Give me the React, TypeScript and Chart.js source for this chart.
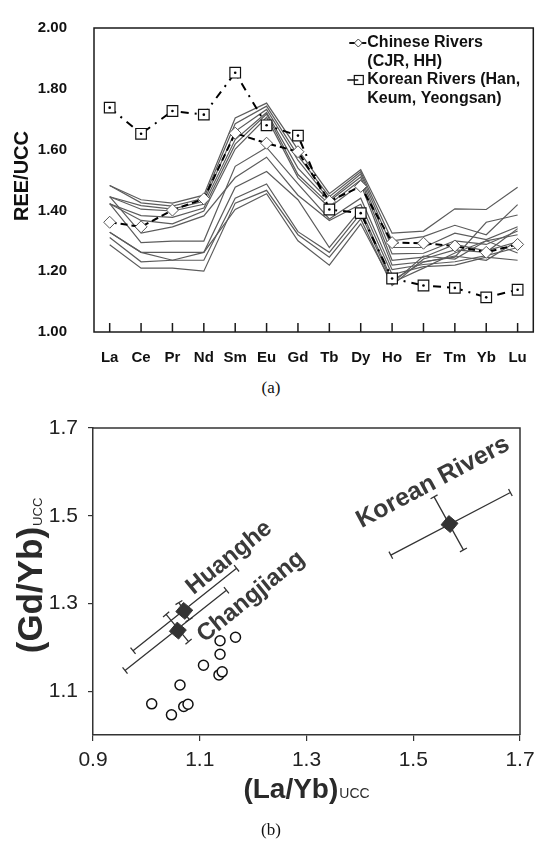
import React, { useEffect, useRef } from "react";
import { Chart, registerables } from "chart.js";
Chart.register(...registerables);

const FONT = "'Liberation Sans', Arial, sans-serif";

// ---------------- Panel (a): REE/UCC patterns ----------------
const elements = ["La", "Ce", "Pr", "Nd", "Sm", "Eu", "Gd", "Tb", "Dy", "Ho", "Er", "Tm", "Yb", "Lu"];
const yTicksA = [1.0, 1.2, 1.4, 1.6, 1.8, 2.0];
const chineseRivers = [1.361, 1.346, 1.401, 1.438, 1.654, 1.621, 1.593, 1.43, 1.479, 1.294, 1.292, 1.283, 1.262, 1.288];
const koreanRivers = [1.738, 1.652, 1.727, 1.715, 1.853, 1.68, 1.646, 1.403, 1.391, 1.176, 1.153, 1.145, 1.114, 1.139];
const sample01 = [1.482, 1.435, 1.424, 1.45, 1.704, 1.753, 1.6, 1.455, 1.534, 1.325, 1.332, 1.405, 1.403, 1.476];
const sample02 = [1.482, 1.425, 1.414, 1.44, 1.685, 1.743, 1.58, 1.445, 1.527, 1.3, 1.314, 1.351, 1.32, 1.419];
const sample03 = [1.445, 1.416, 1.404, 1.43, 1.66, 1.732, 1.565, 1.435, 1.52, 1.278, 1.278, 1.325, 1.304, 1.346];
const sample04 = [1.445, 1.404, 1.398, 1.42, 1.633, 1.722, 1.539, 1.43, 1.51, 1.257, 1.259, 1.3, 1.288, 1.332];
const sample05 = [1.422, 1.383, 1.377, 1.408, 1.618, 1.717, 1.518, 1.42, 1.5, 1.236, 1.246, 1.288, 1.267, 1.297];
const sample06 = [1.422, 1.367, 1.356, 1.398, 1.602, 1.706, 1.508, 1.41, 1.487, 1.22, 1.231, 1.246, 1.361, 1.385];
const sample07 = [1.422, 1.294, 1.299, 1.299, 1.545, 1.607, 1.487, 1.372, 1.44, 1.205, 1.222, 1.231, 1.251, 1.278];
const sample08 = [1.445, 1.325, 1.346, 1.382, 1.508, 1.575, 1.45, 1.367, 1.42, 1.189, 1.215, 1.22, 1.246, 1.236];
const sample09 = [1.328, 1.262, 1.262, 1.262, 1.476, 1.528, 1.435, 1.278, 1.403, 1.17, 1.23, 1.25, 1.236, 1.3];
const sample10 = [1.311, 1.231, 1.236, 1.236, 1.44, 1.487, 1.33, 1.262, 1.39, 1.163, 1.21, 1.26, 1.3, 1.32];
const sample11 = [1.287, 1.21, 1.21, 1.2, 1.424, 1.466, 1.32, 1.246, 1.372, 1.153, 1.24, 1.27, 1.262, 1.34];
const sample12 = [1.328, 1.262, 1.236, 1.262, 1.403, 1.455, 1.3, 1.22, 1.356, 1.16, 1.25, 1.24, 1.3, 1.26];
const samples = [sample01, sample02, sample03, sample04, sample05, sample06, sample07, sample08, sample09, sample10, sample11, sample12];
const legendChinese = ["Chinese Rivers", "(CJR, HH)"];
const legendKorean = ["Korean Rivers (Han,", "Keum, Yeongsan)"];

// ---------------- Panel (b): (Gd/Yb) vs (La/Yb) ----------------
const xTicksB = [0.9, 1.1, 1.3, 1.5, 1.7];
const yTicksB = [1.1, 1.3, 1.5, 1.7];
const sampleLaYb = [1.01, 1.047, 1.063, 1.07, 1.078, 1.107, 1.138, 1.138, 1.136, 1.142, 1.167];
const sampleGdYb = [1.071, 1.046, 1.114, 1.065, 1.07, 1.159, 1.215, 1.184, 1.137, 1.144, 1.223];
const meanNames = ["Huanghe", "Changjiang", "Korean Rivers"];
const meanLaYb = [1.071, 1.059, 1.568];
const meanGdYb = [1.283, 1.238, 1.481];
const longLowLaYb = [0.975, 0.96, 1.458];
const longLowGdYb = [1.192, 1.147, 1.41];
const longHighLaYb = [1.169, 1.15, 1.682];
const longHighGdYb = [1.38, 1.33, 1.553];
const shortUpLaYb = [1.061, 1.037, 1.539];
const shortUpGdYb = [1.302, 1.275, 1.543];
const shortDownLaYb = [1.08, 1.079, 1.594];
const shortDownGdYb = [1.263, 1.213, 1.422];
const nameLaYb = [1.155, 1.196, 1.537];
const nameGdYb = [1.404, 1.315, 1.576];
const nameAngle = [-39, -39, -28];

const panelAPlugin = {
  id: "panelA",
  afterDraw(chart: any) {
    const { ctx, chartArea: a, scales } = chart;
    const x = scales.x;
    ctx.save();
    ctx.strokeStyle = "#1a1a1a";
    ctx.lineWidth = 1.5;
    ctx.strokeRect(a.left, a.top, a.right - a.left, a.bottom - a.top);
    x.ticks.forEach((_: any, i: number) => {
      const px = x.getPixelForTick(i);
      ctx.beginPath();
      ctx.moveTo(px, a.bottom);
      ctx.lineTo(px, a.bottom - 9);
      ctx.stroke();
    });
    // axis title
    ctx.save();
    ctx.translate(22, (a.top + a.bottom) / 2 - 4);
    ctx.rotate(-Math.PI / 2);
    ctx.fillStyle = "#111";
    ctx.font = `bold 20px ${FONT}`;
    ctx.textAlign = "center";
    ctx.textBaseline = "middle";
    ctx.fillText("REE/UCC", 0, 0);
    ctx.restore();
    // legend
    const lx = a.right - 166;
    const ly = a.top + 15;
    ctx.fillStyle = "#111";
    ctx.font = `bold 16px ${FONT}`;
    ctx.textAlign = "left";
    ctx.textBaseline = "middle";
    ctx.fillText(legendChinese[0], lx, ly);
    ctx.fillText(legendChinese[1], lx, ly + 19);
    ctx.fillText(legendKorean[0], lx, ly + 37);
    ctx.fillText(legendKorean[1], lx, ly + 56);
    ctx.strokeStyle = "#111";
    ctx.lineWidth = 2;
    ctx.beginPath();
    ctx.moveTo(lx - 18, ly);
    ctx.lineTo(lx - 12, ly);
    ctx.moveTo(lx - 6, ly);
    ctx.lineTo(lx - 1, ly);
    ctx.stroke();
    ctx.lineWidth = 1;
    ctx.fillStyle = "#fff";
    ctx.strokeStyle = "#444";
    ctx.beginPath();
    ctx.moveTo(lx - 9, ly - 4);
    ctx.lineTo(lx - 5, ly);
    ctx.lineTo(lx - 9, ly + 4);
    ctx.lineTo(lx - 13, ly);
    ctx.closePath();
    ctx.fill();
    ctx.stroke();
    const ky = ly + 37;
    ctx.strokeStyle = "#111";
    ctx.lineWidth = 1.5;
    ctx.beginPath();
    ctx.moveTo(lx - 20, ky);
    ctx.lineTo(lx - 9, ky);
    ctx.stroke();
    ctx.lineWidth = 1.2;
    ctx.strokeRect(lx - 13, ky - 4.5, 9, 9);
    ctx.restore();
  },
};

const panelBPlugin = {
  id: "panelB",
  beforeDatasetsDraw(chart: any) {
    const { ctx, scales } = chart;
    const sx = scales.x;
    const sy = scales.y;
    ctx.save();
    ctx.strokeStyle = "#333";
    ctx.lineWidth = 1.3;
    const bar = (x1: number, y1: number, x2: number, y2: number) => {
      const p1x = sx.getPixelForValue(x1);
      const p1y = sy.getPixelForValue(y1);
      const p2x = sx.getPixelForValue(x2);
      const p2y = sy.getPixelForValue(y2);
      const dx = p2x - p1x;
      const dy = p2y - p1y;
      const len = Math.hypot(dx, dy) || 1;
      const nx = (-dy / len) * 4;
      const ny = (dx / len) * 4;
      ctx.beginPath();
      ctx.moveTo(p1x, p1y);
      ctx.lineTo(p2x, p2y);
      ctx.moveTo(p1x - nx, p1y - ny);
      ctx.lineTo(p1x + nx, p1y + ny);
      ctx.moveTo(p2x - nx, p2y - ny);
      ctx.lineTo(p2x + nx, p2y + ny);
      ctx.stroke();
    };
    for (let i = 0; i < meanLaYb.length; i++) {
      bar(longLowLaYb[i], longLowGdYb[i], longHighLaYb[i], longHighGdYb[i]);
      bar(shortUpLaYb[i], shortUpGdYb[i], shortDownLaYb[i], shortDownGdYb[i]);
    }
    ctx.restore();
  },
  afterDraw(chart: any) {
    const { ctx, chartArea: a, scales } = chart;
    const sx = scales.x;
    const sy = scales.y;
    ctx.save();
    ctx.strokeStyle = "#333";
    ctx.lineWidth = 1.5;
    ctx.beginPath();
    ctx.moveTo(a.left, a.top);
    ctx.lineTo(a.right, a.top);
    ctx.lineTo(a.right, a.bottom);
    ctx.stroke();
    // group names
    ctx.fillStyle = "#3a3a3a";
    ctx.textAlign = "center";
    ctx.textBaseline = "middle";
    for (let i = 0; i < meanNames.length; i++) {
      ctx.save();
      ctx.font = `bold ${i === 2 ? 25 : 24}px ${FONT}`;
      ctx.translate(sx.getPixelForValue(nameLaYb[i]), sy.getPixelForValue(nameGdYb[i]));
      ctx.rotate((nameAngle[i] * Math.PI) / 180);
      ctx.fillText(meanNames[i], 0, 0);
      ctx.restore();
    }
    // x title
    ctx.fillStyle = "#2a2a2a";
    ctx.textAlign = "left";
    ctx.textBaseline = "alphabetic";
    const big = `bold 28px ${FONT}`;
    const small = `14px ${FONT}`;
    ctx.font = big;
    const w1 = ctx.measureText("(La/Yb)").width;
    ctx.font = small;
    const w2 = ctx.measureText("UCC").width;
    const cx = (a.left + a.right) / 2;
    const bx = cx - (w1 + w2 + 1) / 2;
    const base = a.bottom + 63;
    ctx.font = big;
    ctx.fillText("(La/Yb)", bx, base);
    ctx.font = small;
    ctx.fillText("UCC", bx + w1 + 1, base);
    // y title
    const bigY = `bold 35px ${FONT}`;
    const smallY = `13px ${FONT}`;
    ctx.font = bigY;
    const v1 = ctx.measureText("(Gd/Yb)").width;
    ctx.font = smallY;
    const v2 = ctx.measureText("UCC").width;
    ctx.save();
    ctx.translate(42, (a.top + a.bottom) / 2 - 6);
    ctx.rotate(-Math.PI / 2);
    const sy0 = -(v1 + v2 + 1) / 2;
    ctx.font = bigY;
    ctx.fillText("(Gd/Yb)", sy0, 0);
    ctx.font = smallY;
    ctx.fillText("UCC", sy0 + v1 + 1, 0);
    ctx.restore();
    ctx.restore();
  },
};

export default function App() {
  const refA = useRef<HTMLCanvasElement | null>(null);
  const refB = useRef<HTMLCanvasElement | null>(null);

  useEffect(() => {
    const grayDatasets = samples.map((s) => ({
      data: s,
      borderColor: "#5c5c5c",
      borderWidth: 1.2,
      pointRadius: 0,
      fill: false,
      tension: 0,
    }));
    const chartA = new Chart(refA.current as HTMLCanvasElement, {
      type: "line",
      data: {
        labels: elements,
        datasets: [
          {
            data: koreanRivers,
            showLine: false,
            pointStyle: "circle",
            pointRadius: 1.3,
            pointBackgroundColor: "#000",
            pointBorderWidth: 0,
          },
          {
            data: koreanRivers,
            borderColor: "#000",
            borderWidth: 2,
            borderDash: [8, 6, 2, 6],
            pointStyle: "rect",
            pointRadius: 7.5,
            pointBackgroundColor: "#fff",
            pointBorderColor: "#111",
            pointBorderWidth: 1.2,
            tension: 0,
          },
          {
            data: chineseRivers,
            borderColor: "#000",
            borderWidth: 2,
            borderDash: [7, 4],
            pointStyle: "rectRot",
            pointRadius: 6,
            pointBackgroundColor: "#fff",
            pointBorderColor: "#555",
            pointBorderWidth: 1,
            tension: 0,
          },
          ...grayDatasets,
        ] as any,
      },
      options: {
        animation: false,
        responsive: false,
        events: [],
        layout: { padding: { top: 13, right: 4, left: 0, bottom: 0 } },
        plugins: { legend: { display: false }, tooltip: { enabled: false } },
        scales: {
          x: {
            type: "category",
            offset: true,
            grid: { display: false },
            border: { display: false },
            ticks: { font: { family: FONT, size: 15, weight: "bold" }, color: "#111", padding: 9, autoSkip: false, maxRotation: 0 },
            afterFit: (s: any) => {
              s.height = 43;
            },
          },
          y: {
            min: 1.0,
            max: 2.0,
            afterBuildTicks: (s: any) => {
              s.ticks = yTicksA.map((v) => ({ value: v }));
            },
            grid: { display: false },
            border: { display: false },
            ticks: {
              font: { family: FONT, size: 15, weight: "bold" },
              color: "#111",
              padding: 19,
              callback: (v: any) => Number(v).toFixed(2),
            },
            afterFit: (s: any) => {
              s.width = 94;
            },
          },
        },
      } as any,
      plugins: [panelAPlugin],
    });

    const chartB = new Chart(refB.current as HTMLCanvasElement, {
      type: "scatter",
      data: {
        datasets: [
          {
            data: meanLaYb.map((v, i) => ({ x: v, y: meanGdYb[i] })),
            pointStyle: "rect",
            rotation: 40,
            pointRadius: 8.5,
            pointBackgroundColor: "#333",
            pointBorderColor: "#333",
            pointBorderWidth: 1,
          },
          {
            data: sampleLaYb.map((v, i) => ({ x: v, y: sampleGdYb[i] })),
            pointStyle: "circle",
            pointRadius: 5,
            pointBackgroundColor: "#fff",
            pointBorderColor: "#111",
            pointBorderWidth: 1.5,
          },
        ] as any,
      },
      options: {
        animation: false,
        responsive: false,
        events: [],
        layout: { padding: { top: 28, right: 22, left: 0, bottom: 0 } },
        plugins: { legend: { display: false }, tooltip: { enabled: false } },
        scales: {
          x: {
            type: "linear",
            min: 0.9,
            max: 1.7,
            afterBuildTicks: (s: any) => {
              s.ticks = xTicksB.map((v) => ({ value: v }));
            },
            grid: { drawOnChartArea: false, tickLength: 6, color: "#333", lineWidth: 1.2 },
            border: { color: "#333", width: 1.5 },
            ticks: {
              font: { family: FONT, size: 21 },
              color: "#222",
              padding: 7,
              autoSkip: false,
              maxRotation: 0,
              callback: (v: any) => Number(v).toFixed(1),
            },
            afterFit: (s: any) => {
              s.height = 106;
            },
          },
          y: {
            type: "linear",
            min: 1.0,
            max: 1.7,
            afterBuildTicks: (s: any) => {
              s.ticks = yTicksB.map((v) => ({ value: v }));
            },
            grid: { drawOnChartArea: false, tickLength: 5, color: "#333", lineWidth: 1.2 },
            border: { color: "#333", width: 1.5 },
            ticks: {
              font: { family: FONT, size: 21 },
              color: "#222",
              padding: 10,
              autoSkip: false,
              callback: (v: any) => Number(v).toFixed(1),
            },
            afterFit: (s: any) => {
              s.width = 93;
            },
          },
        },
      } as any,
      plugins: [panelBPlugin],
    });

    return () => {
      chartA.destroy();
      chartB.destroy();
    };
  }, []);

  const caption: React.CSSProperties = {
    position: "absolute",
    left: 0,
    width: 542,
    textAlign: "center",
    fontFamily: "'Liberation Serif', 'Times New Roman', serif",
    fontSize: 17,
    color: "#111",
    lineHeight: "20px",
  };

  return (
    <div style={{ position: "absolute", left: 0, top: 0, width: 542, height: 841, background: "#fff", overflow: "hidden" }}>
      <canvas ref={refA} width={542} height={375} style={{ position: "absolute", left: 0, top: 0, width: 542, height: 375 }} />
      <div style={{ ...caption, top: 378 }}>(a)</div>
      <canvas ref={refB} width={542} height={441} style={{ position: "absolute", left: 0, top: 400, width: 542, height: 441 }} />
      <div style={{ ...caption, top: 820 }}>(b)</div>
    </div>
  );
}
